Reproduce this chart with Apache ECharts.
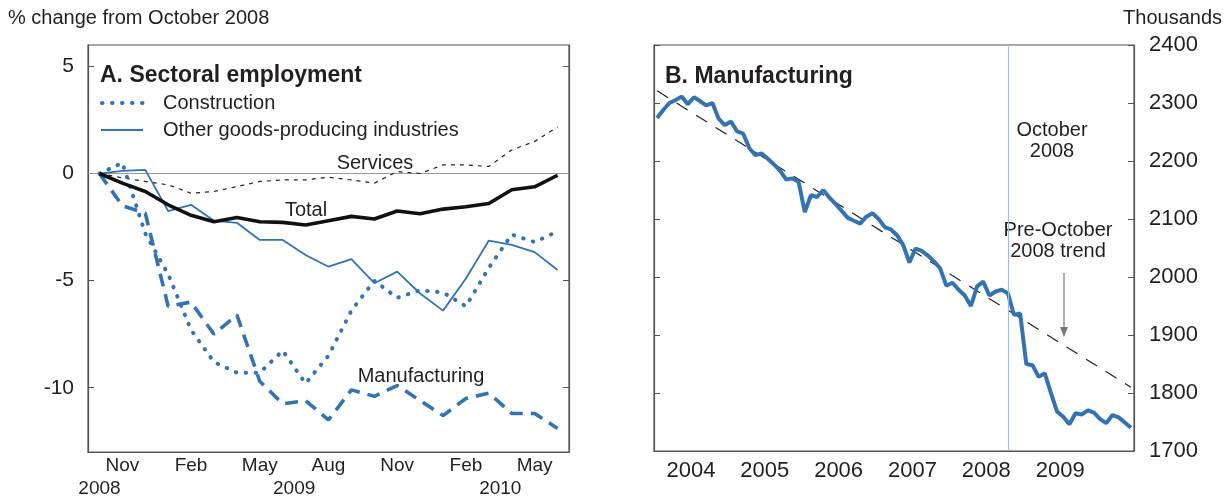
<!DOCTYPE html>
<html><head><meta charset="utf-8">
<script src="https://cdn.jsdelivr.net/npm/echarts@6/dist/echarts.min.js"></script>
<style>html,body{margin:0;padding:0;background:#fff}#c{width:1227px;height:500px}</style>
</head><body><div id="c"></div>
<script>
// ---------- Panel A data ----------
const monthsA = ['Oct 2008','Nov 2008','Dec 2008','Jan 2009','Feb 2009','Mar 2009','Apr 2009','May 2009','Jun 2009','Jul 2009','Aug 2009','Sep 2009','Oct 2009','Nov 2009','Dec 2009','Jan 2010','Feb 2010','Mar 2010','Apr 2010','May 2010','Jun 2010'];
const yTicksA = [-10, -5, 0, 5];
const yearLabelsA = ['2008', '2009', '2010'];
const yearPosA = [0, 8.5, 17.5];
const totalA = [0, -0.45, -0.84, -1.46, -1.95, -2.25, -2.05, -2.25, -2.28, -2.4, -2.2, -2.0, -2.12, -1.75, -1.88, -1.66, -1.55, -1.4, -0.76, -0.62, -0.08];
const servicesA = [0, -0.2, -0.37, -0.53, -0.92, -0.84, -0.61, -0.37, -0.3, -0.3, -0.17, -0.3, -0.45, 0.09, 0, 0.4, 0.4, 0.33, 1.1, 1.5, 2.17];
const constructionA = [0, 0.5, -2.8, -4.7, -7.3, -8.8, -9.3, -9.3, -8.27, -9.8, -8.5, -6.4, -5.0, -5.8, -5.45, -5.55, -6.2, -4.4, -2.85, -3.2, -2.7];
const otherGoodsA = [0, 0.12, 0.17, -1.75, -1.46, -2.2, -2.3, -3.1, -3.1, -3.8, -4.35, -4.0, -5.12, -4.58, -5.6, -6.4, -4.9, -3.13, -3.33, -3.67, -4.5];
const manufacturingA = [0, -1.5, -1.85, -6.2, -6.0, -7.5, -6.6, -9.7, -10.75, -10.6, -11.5, -10.1, -10.4, -9.9, -10.6, -11.3, -10.5, -10.25, -11.2, -11.2, -11.9];

// ---------- Panel B data ----------
const yearsB = ['2004','2005','2006','2007','2008','2009','2010'];
const monthNames = ['Jan','Feb','Mar','Apr','May','Jun','Jul','Aug','Sep','Oct','Nov','Dec'];
const monthsB = [];
yearsB.forEach(y => monthNames.forEach(m => monthsB.push(m + ' ' + y)));
monthsB.length = 78; // Jan 2004 .. Jun 2010
const yearLabelsB = ['2004','2005','2006','2007','2008','2009'];
const yearPosB = [6, 18, 30, 42, 54, 66];
const mfgB = [2274, 2288, 2300, 2305, 2311, 2298, 2310, 2303, 2296, 2300,
  2273, 2262, 2268, 2251, 2247, 2222, 2210, 2213, 2204, 2194,
  2183, 2168, 2170, 2164, 2112, 2141, 2138, 2150, 2137, 2126,
  2114, 2102, 2097, 2092, 2104, 2110, 2100, 2086, 2082, 2072,
  2055, 2025, 2049, 2045, 2037, 2027, 2015, 1985, 1990, 1978,
  1968, 1950, 1984, 1992, 1968, 1975, 1978, 1972, 1935, 1937,
  1850, 1848, 1828, 1834, 1800, 1768, 1759, 1746, 1765, 1763,
  1770, 1766, 1755, 1748, 1762, 1758, 1749, 1740];
const trendB = [2321, 1810];
const markerMonthB = 'Oct 2008';

const BLUE = '#3572b0';
const INK = '#231f20';
const AX = '#555';
const FONT = '"Liberation Sans", Arial, Helvetica, sans-serif';

const chart = echarts.init(document.getElementById('c'), null, {renderer: 'canvas'});

const axLine = {show: true, onZero: false, lineStyle: {color: AX, width: 1.2}};
const noLine = {show: false, onZero: false};
const tickStyle = {color: AX, width: 1};

const option = {
  animation: false,
  backgroundColor: '#fff',
  textStyle: {fontFamily: FONT, color: INK},
  grid: [
    {left: 88, top: 45, width: 481, height: 407, show: true, borderColor: AX, borderWidth: 1.2, containLabel: false},
    {left: 654, top: 45, width: 480, height: 406, show: true, borderColor: AX, borderWidth: 1.2, containLabel: false}
  ],
  xAxis: [
    {type: 'category', gridIndex: 0, data: monthsA, position: 'bottom', boundaryGap: true,
      axisLine: axLine,
      axisTick: {inside: true, length: 5, interval: 0, lineStyle: tickStyle},
      axisLabel: {interval: (i) => i % 3 === 1, formatter: (v) => v.split(' ')[0], fontSize: 19, margin: 4, color: INK, fontFamily: FONT},
      splitLine: {show: false}},
    {type: 'category', gridIndex: 0, data: monthsA, position: 'bottom', boundaryGap: true,
      axisLine: noLine,
      axisTick: {inside: true, length: 13, interval: (i) => i % 3 === 0, lineStyle: tickStyle},
      axisLabel: {show: false}, splitLine: {show: false}},
    {type: 'value', gridIndex: 0, min: -0.5, max: 20.5, position: 'bottom',
      axisLine: noLine, axisTick: {show: false}, splitLine: {show: false},
      axisLabel: {customValues: yearPosA, formatter: (v) => yearLabelsA[yearPosA.indexOf(v)], fontSize: 19, margin: 27, color: INK, fontFamily: FONT}},
    {type: 'category', gridIndex: 1, data: monthsB, position: 'bottom', boundaryGap: true,
      axisLine: axLine,
      axisTick: {inside: true, length: 5, interval: (i) => i % 3 === 0, lineStyle: tickStyle},
      axisLabel: {show: false}, splitLine: {show: false}},
    {type: 'category', gridIndex: 1, data: monthsB, position: 'bottom', boundaryGap: true,
      axisLine: noLine,
      axisTick: {inside: true, length: 10, interval: (i) => i % 12 === 0, lineStyle: tickStyle},
      axisLabel: {show: false}, splitLine: {show: false}},
    {type: 'value', gridIndex: 1, min: 0, max: 78, position: 'bottom',
      axisLine: noLine, axisTick: {show: false}, splitLine: {show: false},
      axisLabel: {customValues: yearPosB, formatter: (v) => yearLabelsB[yearPosB.indexOf(v)], fontSize: 22, margin: 9, color: INK, fontFamily: FONT}}
  ],
  yAxis: [
    {type: 'value', gridIndex: 0, min: -13, max: 6, position: 'left',
      axisLine: axLine,
      axisTick: {show: true, inside: true, length: 6, customValues: yTicksA, lineStyle: tickStyle},
      axisLabel: {customValues: yTicksA, fontSize: 21, margin: 14, color: INK, fontFamily: FONT},
      splitLine: {show: false}},
    {type: 'value', gridIndex: 0, min: -13, max: 6, position: 'right',
      axisLine: axLine,
      axisTick: {show: true, inside: true, length: 6, customValues: yTicksA, lineStyle: tickStyle},
      axisLabel: {show: false}, splitLine: {show: false}},
    {type: 'value', gridIndex: 1, min: 1700, max: 2400, interval: 100, position: 'left',
      axisLine: axLine,
      axisTick: {show: true, inside: true, length: 6, lineStyle: tickStyle},
      axisLabel: {show: false}, splitLine: {show: false}},
    {type: 'value', gridIndex: 1, min: 1700, max: 2400, interval: 100, position: 'right',
      axisLine: axLine,
      axisTick: {show: true, inside: true, length: 6, lineStyle: tickStyle},
      axisLabel: {formatter: (v) => String(v), fontSize: 22, margin: 15, color: INK, fontFamily: FONT},
      splitLine: {show: false}}
  ],
  series: [
    {name: 'Services', type: 'line', xAxisIndex: 0, yAxisIndex: 0, data: servicesA, symbol: 'none', z: 3,
      lineStyle: {color: INK, width: 1.2, type: [4, 5]},
      markLine: {silent: true, symbol: 'none', label: {show: false}, z: 1,
        lineStyle: {color: '#999', width: 1, type: 'solid'}, data: [{yAxis: 0}]}},
    {name: 'Other goods-producing industries', type: 'line', xAxisIndex: 0, yAxisIndex: 0, data: otherGoodsA, symbol: 'none', z: 4,
      lineStyle: {color: BLUE, width: 1.8, type: 'solid'}},
    {name: 'Construction', type: 'line', xAxisIndex: 0, yAxisIndex: 0, data: constructionA, symbol: 'none', z: 4,
      lineStyle: {color: BLUE, width: 4, type: [0.5, 9.5], cap: 'round'}},
    {name: 'Manufacturing', type: 'line', xAxisIndex: 0, yAxisIndex: 0, data: manufacturingA, symbol: 'none', z: 4,
      lineStyle: {color: BLUE, width: 3.6, type: [13, 8]}},
    {name: 'Total', type: 'line', xAxisIndex: 0, yAxisIndex: 0, data: totalA, symbol: 'none', z: 6,
      lineStyle: {color: '#111', width: 3.6}},
    {name: 'Pre-October 2008 trend', type: 'line', xAxisIndex: 3, yAxisIndex: 3,
      data: [[0, trendB[0]], [monthsB.length - 1, trendB[1]]], symbol: 'none', z: 3,
      lineStyle: {color: '#222', width: 1.2, type: [13, 10]}},
    {name: 'Manufacturing B', type: 'line', xAxisIndex: 3, yAxisIndex: 3, data: mfgB, symbol: 'none', z: 4,
      lineStyle: {color: BLUE, width: 4},
      markLine: {silent: true, symbol: 'none', label: {show: false},
        lineStyle: {color: '#9dbde0', width: 1.2, type: 'solid'}, data: [{xAxis: markerMonthB}]}}
  ],
  graphic: [
    {type: 'text', left: 8, top: 8, style: {text: '% change from October 2008', font: '20px ' + FONT, fill: INK}},
    {type: 'text', right: 5, top: 8, style: {text: 'Thousands', font: '20px ' + FONT, fill: INK}},
    {type: 'text', x: 100, y: 76, style: {text: 'A. Sectoral employment', font: 'bold 23px ' + FONT, fill: INK, textVerticalAlign: 'middle'}},
    {type: 'line', shape: {x1: 102, y1: 103, x2: 143, y2: 103}, style: {stroke: BLUE, lineWidth: 4, lineDash: [0.5, 9.5], lineCap: 'round'}},
    {type: 'text', x: 163, y: 103, style: {text: 'Construction', font: '20px ' + FONT, fill: INK, textVerticalAlign: 'middle'}},
    {type: 'line', shape: {x1: 101, y1: 130, x2: 143, y2: 130}, style: {stroke: BLUE, lineWidth: 1.8}},
    {type: 'text', x: 163, y: 130, style: {text: 'Other goods-producing industries', font: '20px ' + FONT, fill: INK, textVerticalAlign: 'middle'}},
    {type: 'text', x: 375, y: 163, style: {text: 'Services', font: '20px ' + FONT, fill: INK, textAlign: 'center', textVerticalAlign: 'middle'}},
    {type: 'text', x: 306, y: 210, style: {text: 'Total', font: '20px ' + FONT, fill: INK, textAlign: 'center', textVerticalAlign: 'middle'}},
    {type: 'text', x: 421, y: 376, style: {text: 'Manufacturing', font: '20px ' + FONT, fill: INK, textAlign: 'center', textVerticalAlign: 'middle'}},
    {type: 'text', x: 665, y: 77, style: {text: 'B. Manufacturing', font: 'bold 23px ' + FONT, fill: INK, textVerticalAlign: 'middle'}},
    {type: 'text', x: 1052, y: 141, style: {text: 'October\n2008', font: '20px ' + FONT, lineHeight: 21, fill: INK, textAlign: 'center', textVerticalAlign: 'middle'}},
    {type: 'text', x: 1058, y: 241, style: {text: 'Pre-October\n2008 trend', font: '20px ' + FONT, lineHeight: 21, fill: INK, textAlign: 'center', textVerticalAlign: 'middle'}},
    {type: 'line', shape: {x1: 1064, y1: 273, x2: 1064, y2: 330}, style: {stroke: '#777', lineWidth: 1.2}},
    {type: 'polygon', shape: {points: [[1060, 327], [1068, 327], [1064, 337]]}, style: {fill: '#777'}}
  ]
};
chart.setOption(option);
</script>
</body></html>
